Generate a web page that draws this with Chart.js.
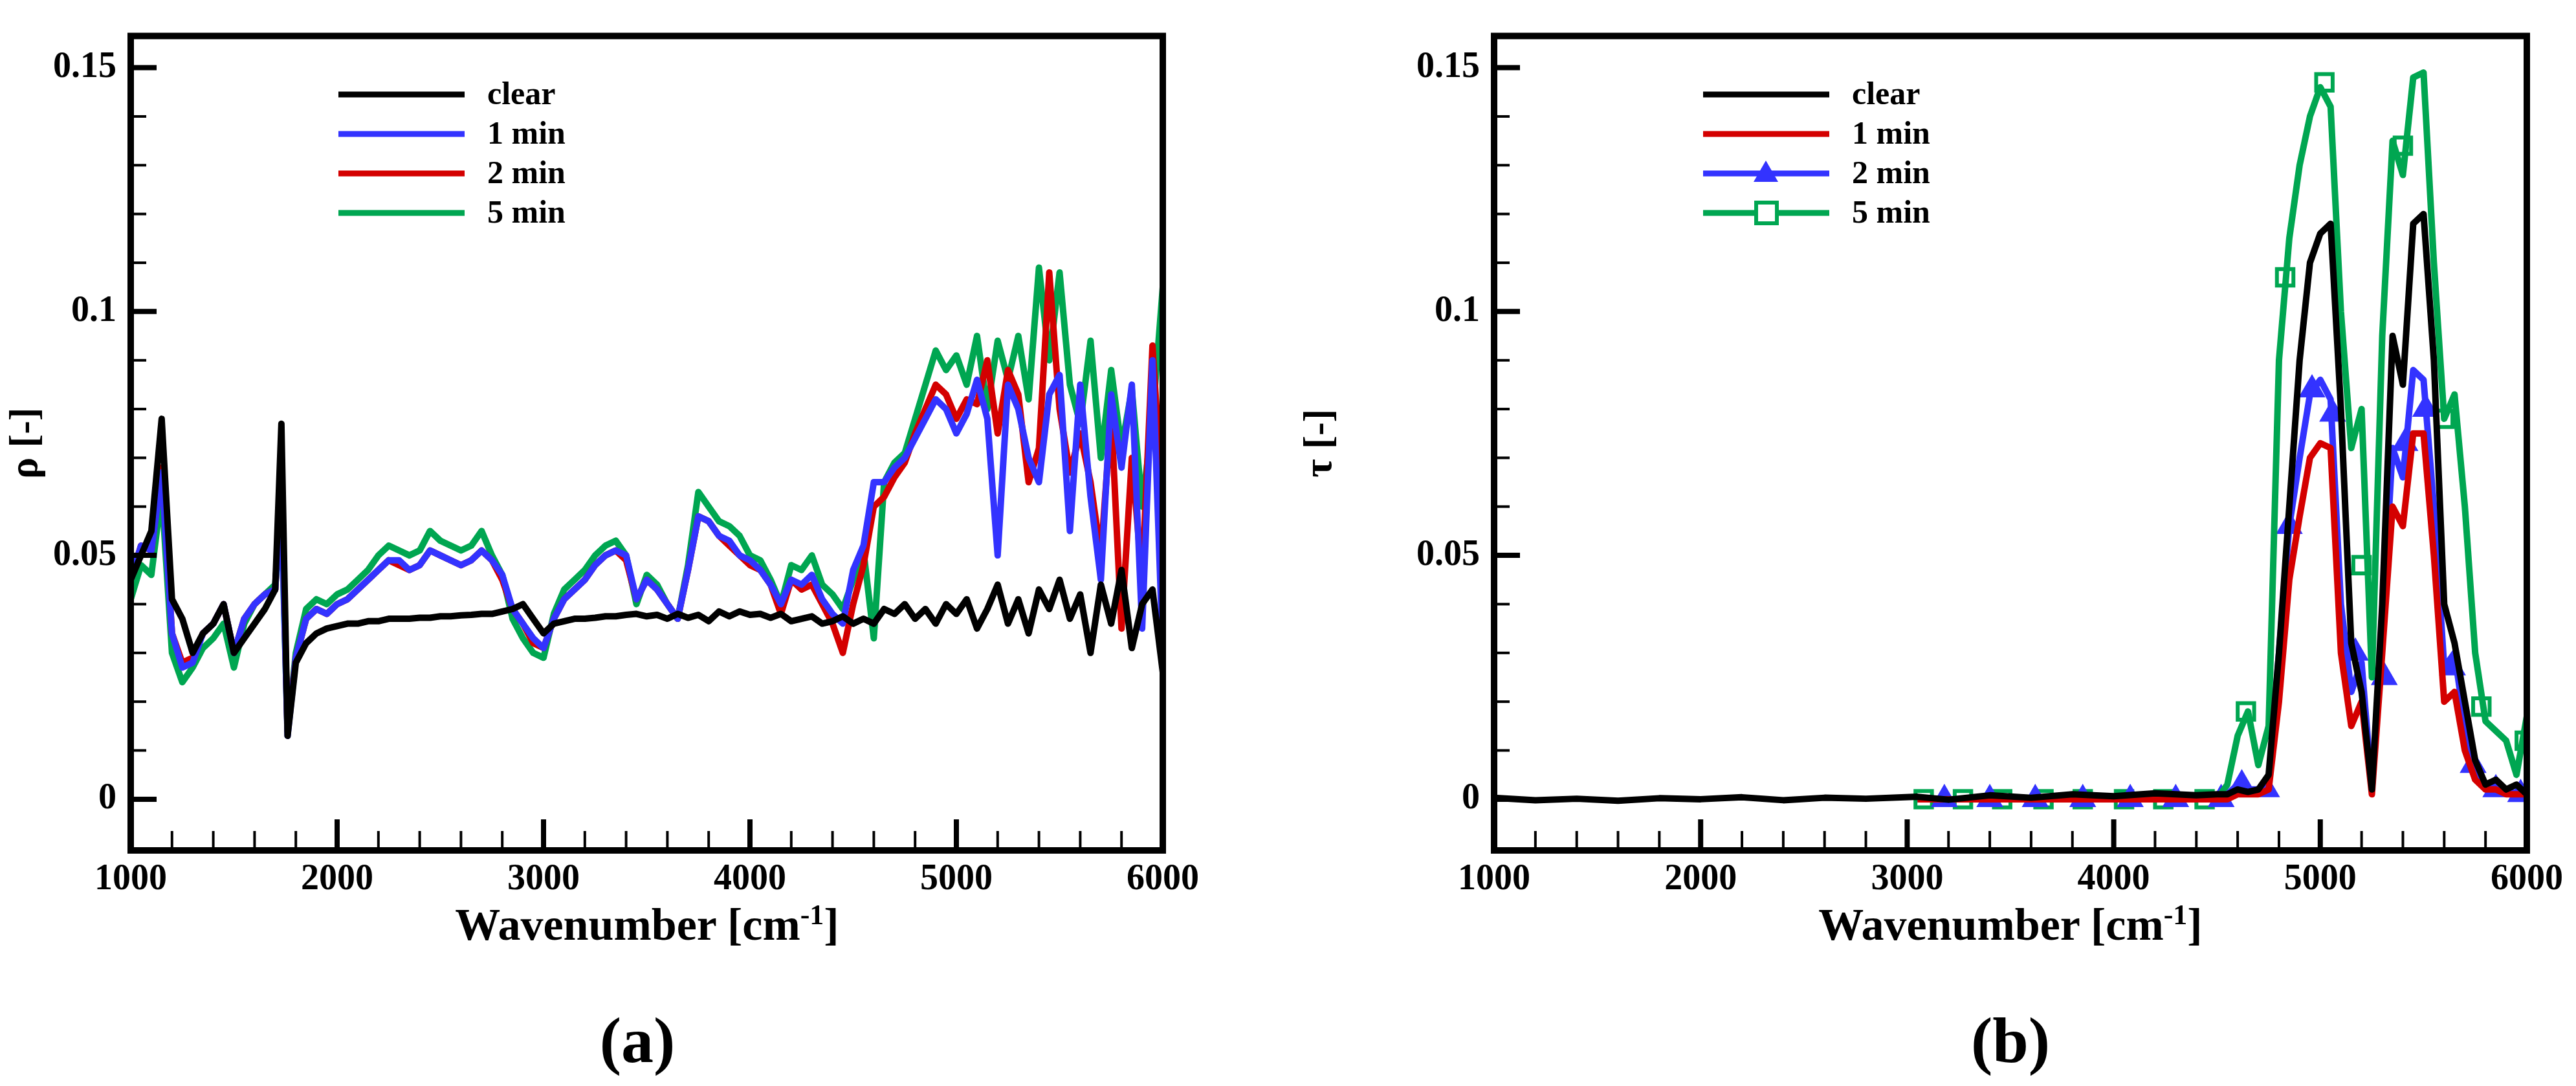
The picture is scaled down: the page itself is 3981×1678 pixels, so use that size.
<!DOCTYPE html>
<html><head><meta charset="utf-8">
<script src="https://cdn.jsdelivr.net/npm/chart.js@4.4.1/dist/chart.umd.min.js"></script>
<style>
html,body{margin:0;padding:0;background:#fff;width:3981px;height:1678px;overflow:hidden;font-family:"Liberation Serif","Times New Roman","DejaVu Serif",serif;}
.cv{position:absolute;top:0;}
.lab{position:absolute;font-family:"Liberation Serif","Times New Roman","DejaVu Serif",serif;font-weight:bold;color:#000;white-space:nowrap;transform:translateX(-50%);}
</style></head><body>
<div class="cv" style="left:0;width:2000px;height:1500px"><canvas id="c1"></canvas></div>
<div class="cv" style="left:2000px;width:1981px;height:1500px"><canvas id="c2"></canvas></div>
<div class="lab" style="left:1000px;top:1388px;font-size:70px">Wavenumber [cm<sup style="font-size:44px">-1</sup>]</div>
<div class="lab" style="left:3107px;top:1388px;font-size:70px">Wavenumber [cm<sup style="font-size:44px">-1</sup>]</div>
<div class="lab" style="left:985px;top:1550px;font-size:100px">(<span>a</span>)</div>
<div class="lab" style="left:3107px;top:1550px;font-size:100px">(<span>b</span>)</div>
<script>
// ---------- data ----------
const seriesNames = ["clear", "1 min", "2 min", "5 min"];
const xTicks = [1000, 2000, 3000, 4000, 5000, 6000];
const yTicks = [0, 0.05, 0.1, 0.15];

// panel (a): reflectance
const xA = [1000,1050,1100,1150,1200,1250,1300,1350,1400,1450,1500,1550,1600,1650,1700,1730,1760,
 1800,1850,1900,1950,2000,2050,2100,2150,2200,2250,2300,2350,2400,2450,2500,2550,2600,2650,2700,2750,2800,2850,2900,2950,
 3000,3050,3100,3150,3200,3250,3300,3350,3400,3450,3500,3550,3600,3650,3700,3750,3800,3850,3900,3950,
 4000,4050,4100,4150,4200,4250,4300,4350,4400,4450,4500,4550,4600,4650,4700,4750,4800,4850,4900,4950,
 5000,5050,5100,5150,5200,5250,5300,5350,5400,5450,5500,5550,5600,5650,5700,5750,5800,5850,5900,5950,6000];
const clearA = [.045,.050,.055,.078,.041,.037,.030,.034,.036,.040,.030,.033,.036,.039,.043,.077,.013,
 .028,.032,.034,.035,.0355,.036,.036,.0365,.0365,.037,.037,.037,.0372,.0372,.0375,.0375,.0377,.0378,.038,.038,.0385,.039,.040,.037,
 .034,.036,.0365,.037,.037,.0372,.0375,.0375,.0378,.038,.0375,.0378,.037,.038,.0372,.0378,.0365,.0385,.0375,.0385,
 .0378,.038,.0372,.038,.0365,.037,.0375,.036,.0365,.0375,.036,.037,.036,.039,.038,.040,.037,.039,.036,.040,
 .038,.041,.035,.039,.044,.036,.041,.034,.043,.039,.045,.037,.042,.030,.044,.036,.047,.031,.040,.043,.026];
const min1A = [.045,.052,.051,.067,.034,.027,.028,.034,.036,.040,.030,.037,.040,.042,.043,.062,.013,
 .029,.037,.039,.038,.040,.041,.043,.045,.047,.049,.049,.047,.048,.051,.050,.049,.048,.049,.051,.049,.046,.039,.036,.033,
 .031,.037,.041,.043,.045,.048,.050,.051,.050,.041,.045,.043,.040,.037,.047,.058,.057,.054,.053,.050,
 .049,.047,.044,.040,.045,.044,.046,.041,.038,.036,.047,.052,.065,.065,.068,.070,.074,.078,.082,.080,
 .075,.079,.086,.078,.050,.085,.080,.070,.065,.083,.087,.055,.085,.062,.045,.083,.068,.085,.035,.090,.030];
const min2A = [.045,.052,.051,.068,.034,.028,.029,.034,.036,.040,.030,.037,.040,.042,.043,.064,.014,
 .029,.037,.039,.038,.040,.041,.043,.045,.047,.049,.048,.047,.048,.051,.050,.049,.048,.049,.051,.049,.045,.039,.036,.032,
 .031,.037,.041,.043,.045,.048,.050,.051,.049,.041,.045,.043,.040,.037,.047,.058,.057,.054,.052,.050,
 .048,.047,.044,.038,.045,.043,.044,.040,.036,.030,.040,.048,.060,.062,.066,.069,.075,.080,.085,.083,
 .078,.082,.081,.090,.075,.088,.083,.065,.072,.108,.080,.067,.075,.065,.050,.079,.035,.070,.045,.093,.060];
const min5A = [.041,.048,.046,.063,.030,.024,.027,.031,.033,.036,.027,.036,.040,.042,.044,.059,.014,
 .030,.039,.041,.040,.042,.043,.045,.047,.050,.052,.051,.050,.051,.055,.053,.052,.051,.052,.055,.050,.046,.037,.033,.030,
 .029,.038,.043,.045,.047,.050,.052,.053,.050,.040,.046,.044,.040,.037,.048,.063,.060,.057,.056,.054,
 .050,.049,.045,.040,.048,.047,.050,.044,.042,.039,.045,.051,.033,.065,.069,.071,.078,.085,.092,.088,
 .091,.085,.095,.080,.094,.086,.095,.082,.109,.090,.108,.085,.077,.094,.070,.088,.072,.084,.060,.078,.105];

// panel (b): transmittance
const xB = [1000,1200,1400,1600,1800,2000,2200,2400,2600,2800,3050,3200,3400,3600,3800,4000,4200,4400,
 4500,4550,4600,4650,4700,4750,4800,4850,4900,4950,5000,5050,5100,5150,5200,5250,5300,5350,5400,5450,5500,5550,
 5600,5650,5700,5750,5800,5850,5900,5950,6000];
const clearB = [.0003,-.0002,.0001,-.0003,.0002,0,.0004,-.0002,.0003,.0001,.0005,-.0001,.0008,.0003,.001,.0006,.0012,.0008,
 .001,.001,.002,.0015,.002,.005,.030,.060,.090,.110,.116,.118,.080,.032,.022,.002,.040,.095,.085,.118,.120,.090,
 .040,.032,.020,.008,.003,.004,.002,.003,.001];
const min1B = [null,null,null,null,null,null,null,null,null,null,0,0,0,0,0,0,0,0,
 0,0,.001,.001,.001,.002,.020,.045,.058,.070,.073,.072,.030,.015,.020,.001,.030,.060,.056,.075,.075,.050,
 .020,.022,.010,.004,.002,.002,.001,.001,.001];
const min2B = [null,null,null,null,null,null,null,null,null,null,0,0,0,0,0,0,0,0,
 0,.001,.003,.002,.002,.003,.030,.056,.070,.083,.086,.082,.040,.022,.028,.002,.035,.072,.066,.088,.086,.060,
 .027,.030,.015,.005,.003,.002,.002,.001,.001];
const min5B = [null,null,null,null,null,null,null,null,null,null,0,0,0,0,0,0,0,0,
 0,.003,.013,.018,.007,.015,.090,.115,.130,.140,.146,.142,.100,.072,.080,.025,.095,.135,.128,.148,.149,.110,
 .078,.083,.060,.030,.016,.014,.012,.005,.017];
const min2MarkX = [3180,3400,3620,3850,4080,4300,4520,4620,4740,4850,4960,5060,5170,5310,5410,5510,5640,5740,5850,5970];
const min2MarkY = [0,0,0,0,0,0,0,.003,.002,.056,.084,.079,.030,.025,.073,.080,.027,.007,.002,.001];
const min5MarkX = [3080,3270,3460,3660,3850,4050,4240,4440,4640,4830,5020,5200,5400,5600,5780,5990];
const min5MarkY = [0,0,0,0,0,0,0,0,.018,.107,.147,.048,.134,.078,.019,.012];

// ---------- styling ----------
const BLACK='#000000', BLUE='#3333ff', RED='#d40000', GREEN='#00a651';
const pts=(xs,ys)=>xs.map((x,i)=>({x:x,y:ys[i]}));
const FONT='"Liberation Serif", "Times New Roman", "DejaVu Serif", serif';

function lineDS(label,xs,ys,color){
  return {label:label,data:pts(xs,ys),borderColor:color,backgroundColor:color,borderWidth:10,
    pointRadius:0,tension:0,spanGaps:false,borderJoinStyle:'round'};
}
function markDS(xs,ys,color,style,fill){
  return {label:'_m',data:pts(xs,ys),showLine:false,borderColor:color,backgroundColor:fill,
    pointStyle:style,pointRadius:18,pointBorderWidth:6};
}

const frame = {
  id:'frame',
  afterDatasetsDraw(chart,args,opts){
    const ctx=chart.ctx, a=chart.chartArea, xs=chart.scales.x, ys=chart.scales.y;
    ctx.save();
    ctx.strokeStyle='#000';
    for(let v=1000; v<=6000; v+=200){
      const px=xs.getPixelForValue(v);
      const major = xTicks.includes(v);
      ctx.lineWidth = major?8:4;
      ctx.beginPath(); ctx.moveTo(px,a.bottom); ctx.lineTo(px,a.bottom-(major?48:30)); ctx.stroke();
    }
    for(let k=0;k<=15;k++){
      const v=k/100, py=ys.getPixelForValue(v);
      const major = (k%5===0);
      ctx.lineWidth = major?8:4;
      ctx.beginPath(); ctx.moveTo(a.left,py); ctx.lineTo(a.left+(major?40:24),py); ctx.stroke();
    }
    ctx.lineWidth=10;
    ctx.strokeRect(a.left,a.top,a.right-a.left,a.bottom-a.top);
    const L=opts.legend; let y=L.y;
    ctx.font='bold 50px '+FONT; ctx.textBaseline='middle'; ctx.fillStyle='#000';
    L.items.forEach(it=>{
      ctx.strokeStyle=it.color; ctx.lineWidth=9;
      ctx.beginPath(); ctx.moveTo(L.x,y); ctx.lineTo(L.x+195,y); ctx.stroke();
      if(it.marker==='tri'){
        ctx.fillStyle=it.color; ctx.beginPath();
        ctx.moveTo(L.x+97,y-20); ctx.lineTo(L.x+116,y+13); ctx.lineTo(L.x+78,y+13); ctx.closePath(); ctx.fill();
      } else if(it.marker==='sq'){
        ctx.fillStyle='#fff'; ctx.lineWidth=6;
        ctx.fillRect(L.x+82,y-16,32,32); ctx.strokeRect(L.x+82,y-16,32,32);
      }
      ctx.fillStyle='#000';
      ctx.fillText(it.label,L.x+230,y+2);
      y+=61;
    });
    ctx.restore();
  }
};

function makeChart(id,datasets,yTitle,padL,padR,legend){
  return new Chart(document.getElementById(id),{
    type:'line',
    data:{datasets:datasets},
    plugins:[frame],
    options:{
      responsive:true,maintainAspectRatio:false,animation:false,devicePixelRatio:1,
      layout:{padding:{top:48,right:padR,left:0,bottom:0}},
      plugins:{legend:{display:false},tooltip:{enabled:false},frame:{legend:legend}},
      scales:{
        x:{type:'linear',min:1000,max:6000,
          afterBuildTicks:s=>{s.ticks=xTicks.map(v=>({value:v}));},
          afterFit:s=>{s.height=186;},
          grid:{display:false,drawTicks:false},border:{display:false},
          ticks:{color:'#000',font:{family:FONT,size:56,weight:'bold'},padding:12,maxRotation:0,
            callback:v=>String(v)}},
        y:{type:'linear',min:-0.0105,max:0.1565,
          afterBuildTicks:s=>{s.ticks=yTicks.map(v=>({value:v}));},
          afterFit:s=>{s.width=padL;},
          grid:{display:false,drawTicks:false},border:{display:false},
          title:{display:true,text:yTitle,color:'#000',font:{family:FONT,size:62,weight:'bold'},padding:{bottom:10}},
          ticks:{color:'#000',font:{family:FONT,size:56,weight:'bold'},padding:22,
            callback:v=>String(Math.round(v*100)/100)}}
      }
    }
  });
}

makeChart('c1',[
  lineDS(seriesNames[0],xA,clearA,BLACK),
  lineDS(seriesNames[1],xA,min1A,BLUE),
  lineDS(seriesNames[2],xA,min2A,RED),
  lineDS(seriesNames[3],xA,min5A,GREEN)
],'ρ [-]',202,203,{x:523,y:146,items:[
  {label:seriesNames[0],color:BLACK},{label:seriesNames[1],color:BLUE},
  {label:seriesNames[2],color:RED},{label:seriesNames[3],color:GREEN}]});

makeChart('c2',[
  lineDS(seriesNames[0],xB,clearB,BLACK),
  lineDS(seriesNames[1],xB,min1B,RED),
  lineDS(seriesNames[2],xB,min2B,BLUE),
  lineDS(seriesNames[3],xB,min5B,GREEN),
  markDS(min2MarkX,min2MarkY,BLUE,'triangle',BLUE),
  markDS(min5MarkX,min5MarkY,GREEN,'rect','#ffffff')
],'τ [-]',309,76,{x:2632-2000,y:146,items:[
  {label:seriesNames[0],color:BLACK},{label:seriesNames[1],color:RED},
  {label:seriesNames[2],color:BLUE,marker:'tri'},{label:seriesNames[3],color:GREEN,marker:'sq'}]});
</script>
</body></html>
